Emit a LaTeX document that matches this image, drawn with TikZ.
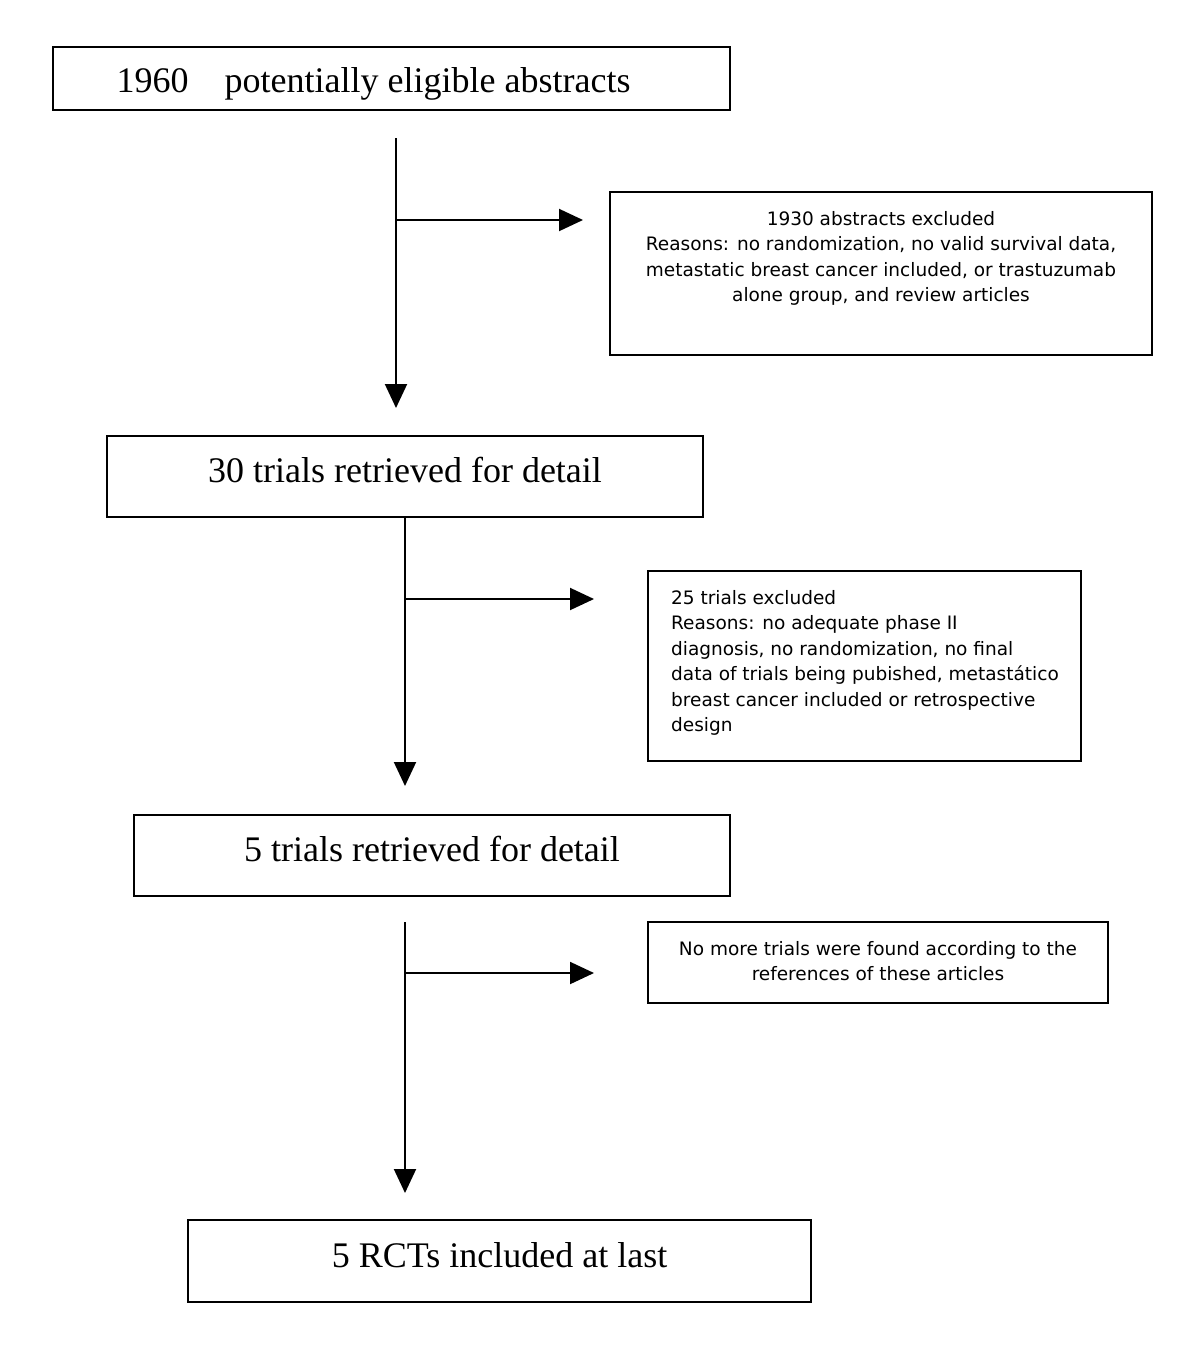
\documentclass[tikz,border=0pt]{standalone}
\usepackage{fontspec}
\setmainfont{Liberation Serif}
\newfontfamily\boxsans{DejaVu Sans}
\usetikzlibrary{arrows.meta}
\begin{document}
\begin{tikzpicture}[x=1pt,y=-1pt,
  mainbox/.style={draw, line width=1.8pt, inner sep=0pt, text height=25pt, text depth=13pt,
    font=\fontsize{36}{42}\selectfont},
  sidebox/.style={draw, line width=1.8pt, inner sep=0pt},
  sidetext/.style={inner sep=0pt, font=\boxsans\fontsize{18.5}{25.5}\selectfont},
  flow/.style={line width=2pt, -{Triangle[length=24pt,width=22pt]}}]
\useasboundingbox (0,0) rectangle (1200,1345);

% main boxes
\node[mainbox, text height=37pt, text depth=9pt, minimum width=677pt, minimum height=63pt] (a) at (391.5,78.5)
  {1960\hspace{1em}potentially eligible abstracts\hspace*{36pt}};
\node[mainbox, minimum width=596pt, minimum height=81pt] (b) at (405,476.5)
  {30 trials retrieved for detail};
\node[mainbox, minimum width=596pt, minimum height=81pt] (c) at (432,855.5)
  {5 trials retrieved for detail};
\node[mainbox, minimum width=623pt, minimum height=82pt] (d) at (499.5,1261)
  {5 RCTs included at last};

% side boxes
\node[sidebox, minimum width=542pt, minimum height=163pt] (s1) at (881,273.5) {};
\node[sidetext, align=center, anchor=north] (t1) at (881,211)
  {1930 abstracts excluded\\
   Reasons: no randomization, no valid survival data,\\
   metastatic breast cancer included, or trastuzumab\\
   alone group, and review articles};

\node[sidebox, minimum width=433pt, minimum height=190pt] (s2) at (864.5,666) {};
\node[sidetext, align=left, anchor=north west] (t2) at (671,590)
  {25 trials excluded\\
   Reasons: no adequate phase II\\
   diagnosis, no randomization, no final\\
   data of trials being pubished, metast\'atico\\
   breast cancer included or retrospective\\
   design};

\node[sidebox, minimum width=460pt, minimum height=81pt] (s3) at (878,962.5) {};
\node[sidetext, align=center, anchor=north] (t3) at (878,941)
  {No more trials were found according to the\\
   references of these articles};

% connector coordinates
\coordinate (v1s) at (396,138);
\coordinate (v1e) at (396,408);
\coordinate (h1s) at (396,220);
\coordinate (h1e) at (583,220);

\coordinate (v2s) at (405,517);
\coordinate (v2e) at (405,786);
\coordinate (h2s) at (405,599);
\coordinate (h2e) at (594,599);

\coordinate (v3s) at (405,922);
\coordinate (v3e) at (405,1193);
\coordinate (h3s) at (405,973);
\coordinate (h3e) at (594,973);

\draw[flow] (v1s) -- (v1e);
\draw[flow] (h1s) -- (h1e);
\draw[flow] (v2s) -- (v2e);
\draw[flow] (h2s) -- (h2e);
\draw[flow] (v3s) -- (v3e);
\draw[flow] (h3s) -- (h3e);
\end{tikzpicture}
\end{document}
